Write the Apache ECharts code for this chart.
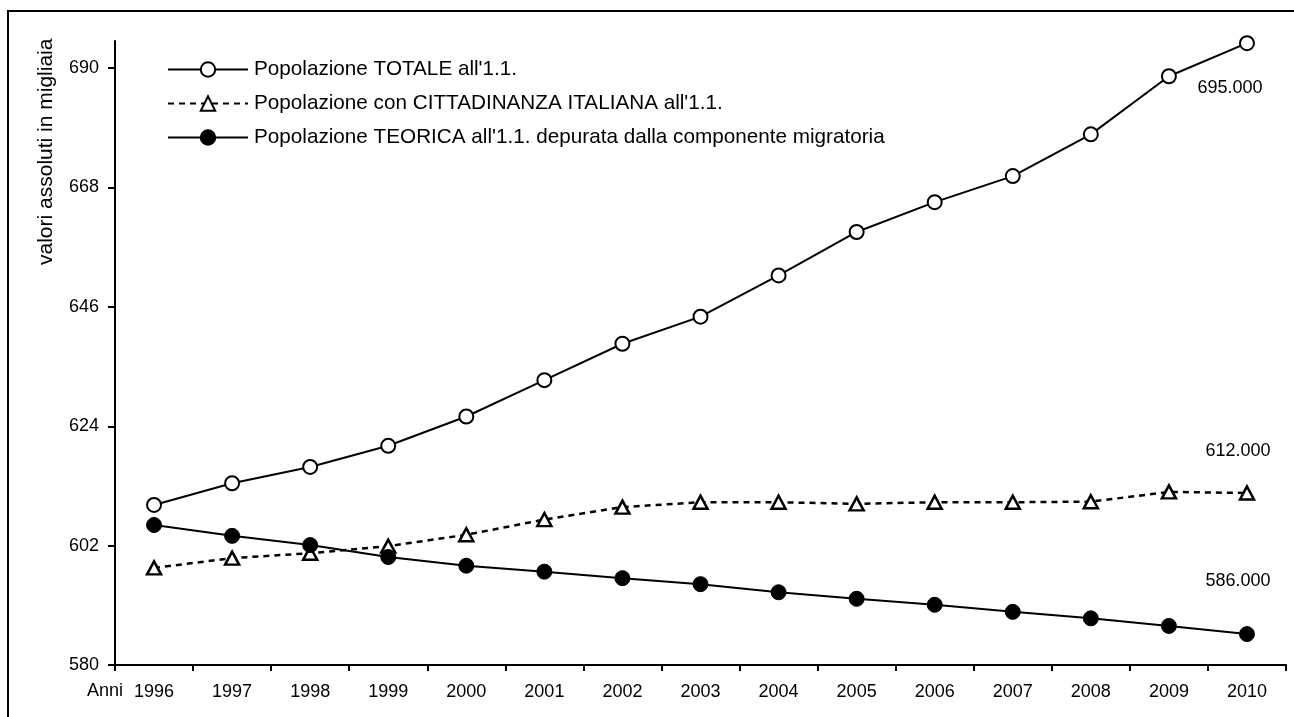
<!DOCTYPE html>
<html>
<head>
<meta charset="utf-8">
<script src="https://cdn.jsdelivr.net/npm/echarts@6/dist/echarts.min.js"></script>
<style>
html,body{margin:0;padding:0;background:#fff;}
#chart{width:1294px;height:717px;}
</style>
</head>
<body>
<div id="chart"></div>
<script>
// ---- data ----
const years = ['1996','1997','1998','1999','2000','2001','2002','2003','2004','2005','2006','2007','2008','2009','2010'];
const seriesNames = [
  "Popolazione TOTALE all'1.1.",
  "Popolazione con CITTADINANZA ITALIANA all'1.1.",
  "Popolazione TEORICA all'1.1. depurata dalla componente migratoria"
];
const totale   = [609.5, 613.5, 616.5, 620.4, 625.8, 632.5, 639.2, 644.2, 651.8, 659.8, 665.3, 670.1, 677.8, 688.5, 694.6];
const italiana = [597.9, 599.7, 600.6, 601.9, 604.0, 606.8, 609.1, 610.0, 610.0, 609.7, 610.0, 610.0, 610.1, 611.9, 611.7];
const teorica  = [605.8, 603.8, 602.1, 599.9, 598.3, 597.2, 596.0, 594.9, 593.4, 592.2, 591.1, 589.8, 588.6, 587.2, 585.7];
const endLabels = ['695.000', '612.000', '586.000'];
const yTicks = [580, 602, 624, 646, 668, 690];
const yTitle = 'valori assoluti in migliaia';
const xTitle = 'Anni';

const FONT = 'Liberation Sans, Arial, sans-serif';

function withEndLabel(values, text, offset) {
  const last = values.length - 1;
  return values.map((v, i) => i === last ? {
    value: v,
    label: {
      show: true, formatter: text, position: 'inside', offset: offset,
      color: '#000', fontSize: 18, fontFamily: FONT
    }
  } : v);
}

const chart = echarts.init(document.getElementById('chart'), null, {renderer: 'canvas'});
chart.setOption({
  animation: false,
  backgroundColor: '#fff',
  textStyle: {fontFamily: FONT, color: '#000'},
  grid: {left: 115, right: 8, top: 41, bottom: 52, containLabel: false},
  legend: {
    orient: 'vertical',
    left: 167, top: 59,
    padding: 0,
    itemWidth: 80, itemHeight: 18, itemGap: 13,
    textStyle: {fontSize: 20.7, lineHeight: 20, color: '#000', fontFamily: FONT, padding: [0,0,0,1]},
    data: seriesNames
  },
  xAxis: {
    type: 'category',
    data: years,
    boundaryGap: true,
    axisLine: {lineStyle: {color: '#000', width: 2}},
    axisTick: {show: true, length: 6, lineStyle: {color: '#000', width: 2}, alignWithLabel: false},
    axisLabel: {color: '#000', fontSize: 18, margin: 18, fontFamily: FONT, interval: 0},
    splitLine: {show: false}
  },
  yAxis: {
    type: 'value',
    min: 580, max: 695, interval: 22,
    axisLine: {show: true, lineStyle: {color: '#000', width: 2}},
    axisTick: {show: true, length: 7, lineStyle: {color: '#000', width: 2}, customValues: yTicks},
    axisLabel: {color: '#000', fontSize: 18, margin: 16, fontFamily: FONT, customValues: yTicks},
    splitLine: {show: false}
  },
  graphic: [
    {type: 'rect', shape: {x: 8, y: 11, width: 1400, height: 800}, style: {fill: 'none', stroke: '#000', lineWidth: 2}, silent: true, z: -1},
    {type: 'text', x: 46, y: 265, rotation: Math.PI / 2,
     style: {text: yTitle, fontSize: 21, fontFamily: FONT, fill: '#000', textAlign: 'left', textVerticalAlign: 'middle'}},
    {type: 'text', x: 105, y: 691,
     style: {text: xTitle, fontSize: 18, fontFamily: FONT, fill: '#000', textAlign: 'center', textVerticalAlign: 'middle'}}
  ],
  series: [
    {
      name: seriesNames[0], type: 'line',
      data: withEndLabel(totale, endLabels[0], [-17, 45]),
      symbol: 'circle', symbolSize: 14, showAllSymbol: true,
      lineStyle: {color: '#000', width: 2, type: 'solid'},
      itemStyle: {color: '#fff', borderColor: '#000', borderWidth: 2},
      z: 3
    },
    {
      name: seriesNames[1], type: 'line',
      data: withEndLabel(italiana, endLabels[1], [-9, -42]),
      symbol: 'triangle', symbolSize: [14, 13], showAllSymbol: true,
      lineStyle: {color: '#000', width: 2.5, type: [6, 5]},
      itemStyle: {color: '#fff', borderColor: '#000', borderWidth: 2.5},
      z: 2
    },
    {
      name: seriesNames[2], type: 'line',
      data: withEndLabel(teorica, endLabels[2], [-9, -53]),
      symbol: 'circle', symbolSize: 15, showAllSymbol: true,
      lineStyle: {color: '#000', width: 2, type: 'solid'},
      itemStyle: {color: '#000', borderColor: '#000', borderWidth: 1},
      z: 4
    }
  ]
});
</script>
</body>
</html>
